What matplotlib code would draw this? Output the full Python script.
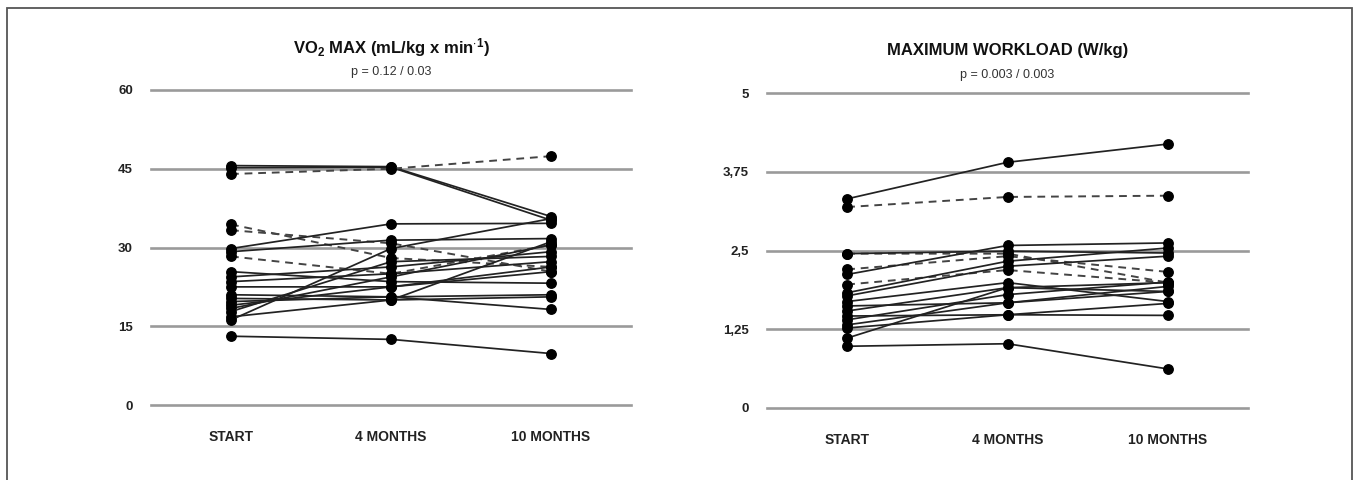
import matplotlib
matplotlib.use("Agg")
import matplotlib.pyplot as plt
from matplotlib.patches import Rectangle

plt.rcParams['font.family'] = ['Liberation Sans', 'DejaVu Sans']
plt.rcParams['mathtext.fontset'] = 'custom'
plt.rcParams['mathtext.rm'] = 'Liberation Sans:bold'
plt.rcParams['mathtext.default'] = 'rm'

# categories
times = ["START", "4 MONTHS", "10 MONTHS"]

# VO2 max per subject (start, 4 months, 10 months); dashed = True for dashed subjects
vo2_start = [45.6, 45.2, 44.0, 34.4, 33.3, 29.8, 29.2, 28.3, 25.4, 24.4, 23.5,
             22.5, 21.0, 20.3, 19.7, 19.0, 18.4, 17.8, 16.8, 16.2, 13.1]
vo2_4m = [45.4, 45.3, 45.0, 28.0, 30.8, 34.5, 31.4, 25.0, 23.5, 26.3, 25.0,
          22.5, 20.6, 20.0, 20.6, 22.5, 24.4, 27.3, 20.0, 29.8, 12.5]
vo2_10m = [35.9, 35.2, 47.4, 26.3, 25.4, 34.6, 31.7, 30.5, 23.2, 29.2, 27.3,
           25.4, 21.0, 20.6, 18.2, 26.3, 30.5, 28.3, 31.1, 35.5, 9.8]
vo2_dashed = [False, False, True, True, True, False, False, True, False, False, False,
              False, False, False, False, False, False, False, False, False, False]
vo2_ticks = [0, 15, 30, 45, 60]
vo2_ticklabels = ["0", "15", "30", "45", "60"]

# maximum workload per subject
wl_start = [3.32, 3.19, 2.45, 2.45, 2.20, 2.12, 1.96, 1.83, 1.78, 1.69, 1.62,
            1.54, 1.46, 1.40, 1.32, 1.27, 1.11, 0.98]
wl_4m = [3.90, 3.35, 2.45, 2.49, 2.41, 2.58, 2.19, 2.33, 2.25, 1.99, 1.67,
         1.91, 1.48, 1.80, 1.67, 1.48, 1.91, 1.02]
wl_10m = [4.19, 3.37, 1.99, 2.46, 2.16, 2.62, 1.99, 2.54, 2.41, 1.69, 1.93,
          1.85, 1.66, 2.00, 1.85, 1.47, 1.99, 0.62]
wl_dashed = [False, True, True, False, True, False, True, False, False, False, False,
             False, False, False, False, False, False, False]
wl_ticks = [0, 1.25, 2.5, 3.75, 5]
wl_ticklabels = ["0", "1,25", "2,5", "3,75", "5"]

W, H = 1358, 480
fig = plt.figure(figsize=(W / 100, H / 100), dpi=100)


def panel(rect, start, m4, m10, dashed, ticks, ticklabels, title, ptext):
    ax = fig.add_axes(rect)
    for t in ticks:
        ax.axhline(t, color="#9a9a9a", lw=1.9, zorder=1, clip_on=False)
    x = range(len(times))
    for a, b, c, d in zip(start, m4, m10, dashed):
        if d:
            ax.plot(x, [a, b, c], color="#444444", lw=1.4, ls=(0, (4, 3)),
                    marker="o", ms=6.8, mfc="black", mec="black", zorder=3)
        else:
            ax.plot(x, [a, b, c], color="#222222", lw=1.25,
                    marker="o", ms=6.8, mfc="black", mec="black", zorder=3)
    ax.set_xlim(-0.5, 2.5)
    ax.set_ylim(ticks[0], ticks[-1])
    ax.set_yticks(ticks)
    ax.set_yticklabels(ticklabels, fontsize=9.5, fontweight="bold", color="#222222")
    ax.set_xticks(list(x))
    ax.set_xticklabels(times, fontsize=10, fontweight="bold", color="#222222")
    ax.tick_params(axis="y", length=0, pad=13)
    ax.tick_params(axis="x", length=0, pad=18)
    for s in ax.spines.values():
        s.set_visible(False)
    ax.text(0.5, 1.135, title, transform=ax.transAxes, ha="center", va="center",
            fontsize=12, fontweight="bold", color="#111111")
    ax.text(0.5, 1.058, ptext, transform=ax.transAxes, ha="center", va="center",
            fontsize=9, color="#333333")
    return ax


panel([151 / W, 75 / H, 480 / W, 315 / H], vo2_start, vo2_4m, vo2_10m, vo2_dashed,
      vo2_ticks, vo2_ticklabels, r"VO$_2$ MAX (mL/kg x min$^{\cdot 1}$)", "p = 0.12 / 0.03")
panel([767 / W, 72 / H, 481 / W, 315 / H], wl_start, wl_4m, wl_10m, wl_dashed,
      wl_ticks, wl_ticklabels, "MAXIMUM WORKLOAD (W/kg)", "p = 0.003 / 0.003")

# outer frame (bottom edge falls outside the image)
fig.add_artist(Rectangle((7 / W, -0.05), 1345 / W, (472 / H) + 0.05,
                         transform=fig.transFigure, fill=False,
                         edgecolor="#555555", lw=1.3))

fig.savefig("out.png", dpi=100)
